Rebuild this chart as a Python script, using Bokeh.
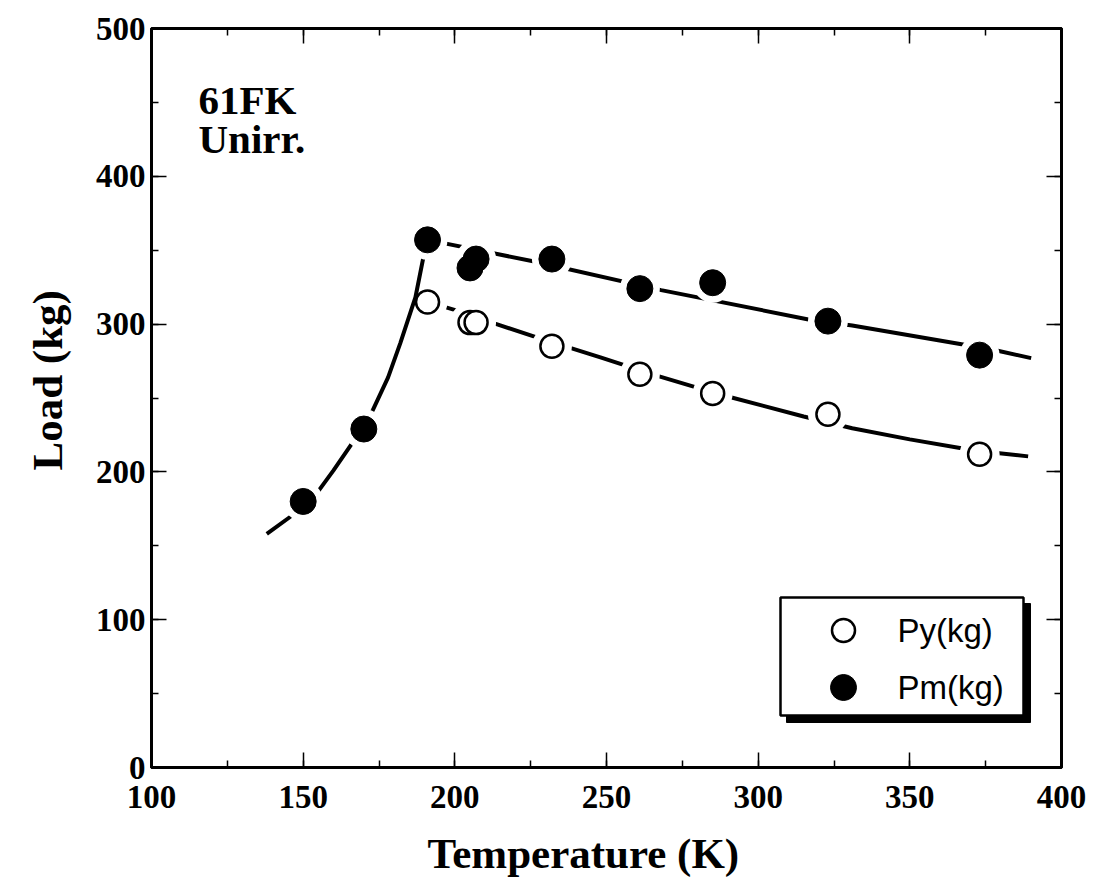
from bokeh.plotting import figure
from bokeh.models import LinearAxis, SingleIntervalTicker, Label, Range1d, Title
from bokeh.embed import file_html
from bokeh.resources import INLINE

# Yield load (open circles) and maximum load (filled circles) vs test temperature
temp_py = [191, 205, 207, 232, 261, 285, 323, 373]
load_py = [315, 301, 301, 285, 266, 253, 239, 212]

temp_pm = [150, 170, 191, 205, 207, 232, 261, 285, 323, 373]
load_pm = [180, 229, 357, 338, 344, 344, 324, 328, 302, 279]

# Trend curves
trend_low_t = [138, 146, 150, 155, 160, 166, 170, 173, 178, 182, 187, 190, 191]
trend_low_l = [158, 170, 179, 187, 201, 219, 230, 242, 264, 287, 318, 349, 357]

trend_pm_t = [191, 227, 268, 317, 331, 368, 379, 390]
trend_pm_l = [357, 342, 323, 303, 299, 286, 282, 277]

trend_py_t = [191, 201, 213, 227, 248, 266, 279, 290, 315, 331, 350, 367, 378, 389]
trend_py_l = [315, 309, 300.5, 291, 277.5, 265.5, 257.5, 251, 237.5, 229.5, 222, 216, 213, 210.5]

# frame geometry (pixels)
FL, FT, FW, FH = 151, 28, 910, 739
X0, X1, Y0, Y1 = 100, 400, 0, 500


def dx(px):
    return X0 + (px - FL) * (X1 - X0) / FW


def dy(py):
    return Y0 + (FT + FH - py) * (Y1 - Y0) / FH


SERIF = "Liberation Serif"
SANS = "Liberation Sans"

p = figure(width=1100, height=894,
           x_range=Range1d(X0, X1), y_range=Range1d(Y0, Y1),
           output_backend="svg", toolbar_location=None,
           min_border_left=FL, min_border_top=FT,
           min_border_right=1100 - FL - FW, min_border_bottom=894 - FT - FH,
           background_fill_color="white", border_fill_color="white")
p.xgrid.visible = False
p.ygrid.visible = False
p.outline_line_color = "black"
p.outline_line_width = 3


def style_axis(ax, interval, labels):
    ax.ticker = SingleIntervalTicker(interval=interval, num_minor_ticks=2)
    ax.axis_line_color = "black"
    ax.axis_line_width = 3
    ax.major_tick_in = 15
    ax.major_tick_out = 0
    ax.minor_tick_in = 7
    ax.minor_tick_out = 0
    ax.major_tick_line_width = 1.5
    ax.minor_tick_line_width = 1.5
    ax.major_tick_line_color = "black"
    ax.minor_tick_line_color = "black"
    if labels:
        ax.major_label_text_font = SERIF
        ax.major_label_text_font_style = "bold"
        ax.major_label_text_font_size = "33px"
        ax.major_label_text_color = "black"
    else:
        ax.major_label_text_color = None


xb = p.xaxis[0]
yl = p.yaxis[0]
style_axis(xb, 50, True)
style_axis(yl, 100, True)
xb.major_label_standoff = 18
yl.major_label_standoff = 6

xt = LinearAxis()
style_axis(xt, 50, False)
p.add_layout(xt, "above")
yr = LinearAxis()
style_axis(yr, 100, False)
p.add_layout(yr, "right")

# axis titles
p.add_layout(Title(text="Temperature (K)", align="left", offset=276,
                   standoff=35, text_font=SERIF, text_font_style="bold",
                   text_font_size="43px", text_color="black"), "below")
p.add_layout(Title(text="Load (kg)", align="left", offset=297,
                   standoff=43, text_font=SERIF, text_font_style="bold",
                   text_font_size="43px", text_color="black"), "left")

LW = 4
HALO = 40

# yield-load trend, broken around its own markers
p.line(trend_py_t, trend_py_l, line_color="black", line_width=LW)
p.scatter(temp_py, load_py, size=HALO, fill_color="white", line_color=None)

# maximum-load trends, broken around their markers
p.line(trend_low_t, trend_low_l, line_color="black", line_width=LW)
p.line(trend_pm_t, trend_pm_l, line_color="black", line_width=LW)
p.scatter(temp_pm, load_pm, size=HALO, fill_color="white", line_color=None)

p.scatter(temp_py, load_py, size=23, fill_color="white",
          line_color="black", line_width=2.5)
p.scatter(temp_pm, load_pm, size=26, fill_color="black",
          line_color="black", line_width=1)

# specimen annotation
p.add_layout(Label(x=dx(198), y=dy(99), text="61FK", text_font=SERIF,
                   text_font_style="bold", text_font_size="41px",
                   text_baseline="alphabetic", text_color="black"))
p.add_layout(Label(x=dx(198), y=dy(138), text="Unirr.", text_font=SERIF,
                   text_font_style="bold", text_font_size="41px",
                   text_baseline="alphabetic", text_color="black"))

# legend box with drop shadow
p.quad(left=[dx(786)], right=[dx(1030)], top=[dy(603)], bottom=[dy(722)],
       fill_color="black", line_color="black", line_width=1)
p.quad(left=[dx(780)], right=[dx(1023)], top=[dy(597)], bottom=[dy(715)],
       fill_color="white", line_color="black", line_width=2.5)
p.scatter([dx(843)], [dy(630)], size=23, fill_color="white",
          line_color="black", line_width=2.5)
p.scatter([dx(843)], [dy(687)], size=26, fill_color="black",
          line_color="black", line_width=1)
p.add_layout(Label(x=dx(897), y=dy(630), text="Py(kg)", text_font=SANS,
                   text_font_size="33px", text_baseline="middle",
                   text_color="black"))
p.add_layout(Label(x=dx(897), y=dy(687), text="Pm(kg)", text_font=SANS,
                   text_font_size="33px", text_baseline="middle",
                   text_color="black"))

open("out.html", "w").write(file_html(p, INLINE))
